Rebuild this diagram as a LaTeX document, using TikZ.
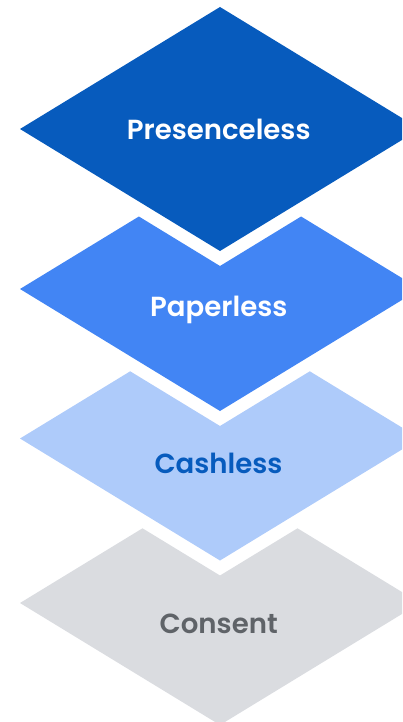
\documentclass[tikz,border=0pt]{standalone}
\usepackage{fontspec}
\setmainfont{Poppins}[UprightFont=* SemiBold]
\definecolor{cA}{HTML}{075BBD}
\definecolor{cB}{HTML}{4285F4}
\definecolor{cC}{HTML}{AECBFA}
\definecolor{cD}{HTML}{DADCE0}
\definecolor{tGrey}{HTML}{5F6368}
\begin{document}
\begin{tikzpicture}[x=1pt,y=-1pt,
  lab/.style={anchor=base,inner sep=0pt,font=\fontsize{27.6}{32}\selectfont}]
\useasboundingbox (0,0) rectangle (402,722);
\begin{scope}
\clip (0,0) rectangle (402,722);
\fill[cA] (20,129) -- (220,7) -- (420,129) -- (220,251) -- cycle;
\fill[cB] (20,289) -- (138.9,216.5) -- (220,266) -- (301.1,216.5) -- (420,289) -- (220,411) -- cycle;
\fill[cC] (20,438.5) -- (130.2,371.3) -- (220,426) -- (309.8,371.3) -- (420,438.5) -- (220,560.5) -- cycle;
\fill[cD] (20,603) -- (142.5,528.3) -- (220,575.5) -- (297.5,528.3) -- (420,603) -- (220,725) -- cycle;
\end{scope}
\node[lab,text=white] (presenceless) at (218.7,140) {Presenceless};
\node[lab,text=white] (paperless) at (218.8,316.7) {Paperless};
\node[lab,text=cA] (cashless) at (218.5,473.3) {Cashless};
\node[lab,text=tGrey] (consent) at (218.7,633.3) {Consent};
\end{tikzpicture}
\end{document}
